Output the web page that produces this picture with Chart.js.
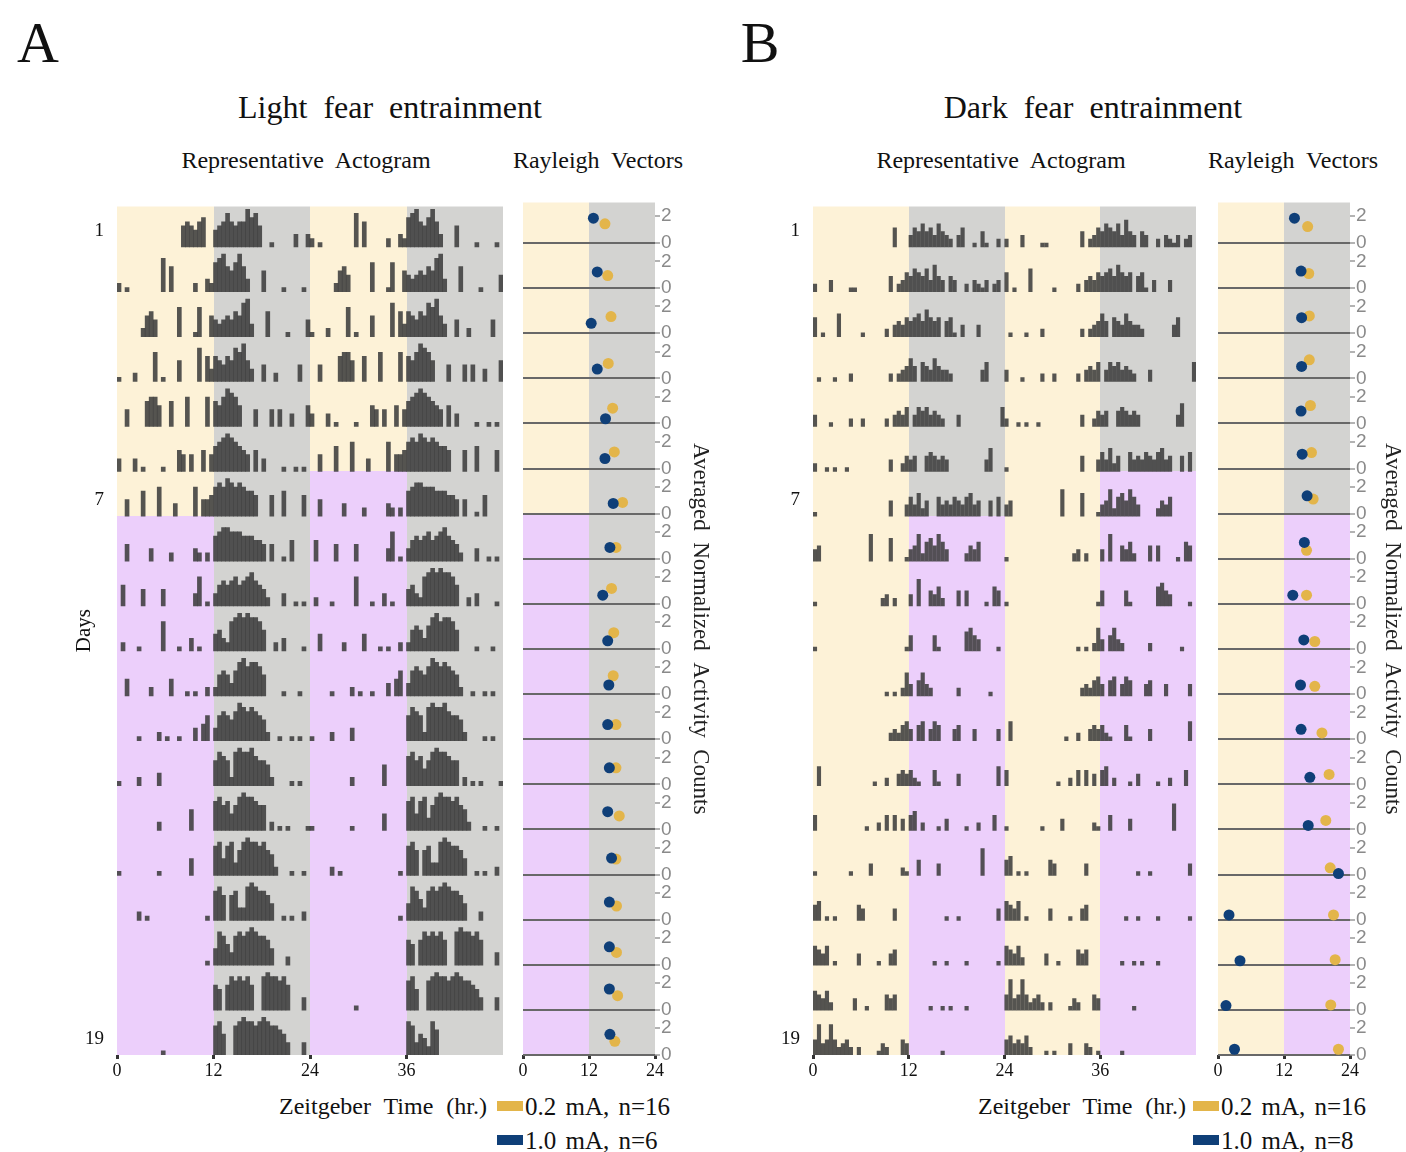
<!DOCTYPE html>
<html>
<head>
<meta charset="utf-8">
<title>Light / dark fear entrainment</title>
<script src="https://cdn.jsdelivr.net/npm/chart.js@4.4.1/dist/chart.umd.min.js"></script>
<style>
  html, body { margin: 0; background: #fff; }
  #page { position: relative; width: 1406px; height: 1152px; overflow: hidden;
          font-family: 'Liberation Serif', 'Times New Roman', serif; color: #111; }
  #page canvas { position: absolute; }
  .txt { position: absolute; white-space: nowrap; line-height: 1; transform: translate(-50%, -50%); word-spacing: 6px; }
  .panel { font-size: 58px; }
  .title { font-size: 32px; word-spacing: 8px; }
  .sub { font-size: 24px; }
  .axis { font-size: 24px; word-spacing: 7px; }
  .key { position: absolute; white-space: nowrap; line-height: 1; font-size: 25px; word-spacing: 3px; transform: translateY(-50%); }
  .swatch { position: absolute; width: 26px; height: 10px; }
</style>
</head>
<body>
<div id="page">
  <div class="txt panel" style="left:38px;top:43px">A</div>
  <div class="txt panel" style="left:760px;top:43px">B</div>
  <div class="txt title" style="left:390px;top:107px">Light fear entrainment</div>
  <div class="txt title" style="left:1093px;top:107px">Dark fear entrainment</div>
  <div class="txt sub" style="left:306px;top:160px">Representative Actogram</div>
  <div class="txt sub" style="left:598px;top:160px">Rayleigh Vectors</div>
  <div class="txt sub" style="left:1001px;top:160px">Representative Actogram</div>
  <div class="txt sub" style="left:1293px;top:160px">Rayleigh Vectors</div>

  <canvas id="actoA" width="450" height="900" style="left:60px;top:190px"></canvas>
  <canvas id="rayA" width="205" height="900" style="left:515px;top:190px"></canvas>
  <canvas id="actoB" width="443" height="900" style="left:760px;top:190px"></canvas>
  <canvas id="rayB" width="196" height="900" style="left:1210px;top:190px"></canvas>

  <div class="txt axis" style="left:383px;top:1106px">Zeitgeber Time (hr.)</div>
  <div class="swatch" style="left:497px;top:1101px;background:#e3b54a"></div>
  <div class="key" style="left:525px;top:1106px">0.2 mA, n=16</div>
  <div class="swatch" style="left:497px;top:1135px;background:#0f3f78"></div>
  <div class="key" style="left:525px;top:1140px">1.0 mA, n=6</div>

  <div class="txt axis" style="left:1082px;top:1106px">Zeitgeber Time (hr.)</div>
  <div class="swatch" style="left:1193px;top:1101px;background:#e3b54a"></div>
  <div class="key" style="left:1221px;top:1106px">0.2 mA, n=16</div>
  <div class="swatch" style="left:1193px;top:1135px;background:#0f3f78"></div>
  <div class="key" style="left:1221px;top:1140px">1.0 mA, n=8</div>
</div>
<script>
const ROWS = 19;
const TOP = 18.9;
const VEC_UNIT = 0.297;

const hourTicksActo = [0, 12, 24, 36];
const hourTicksVec = [0, 12, 24];
const dayRows = [1, 7, 19];
const dayLabels = ['1', '7', '19'];
const vecTickLabels = ['0', '2'];

// activity per half hour (0-9), one string per day, groups of 4 h
const actoA = [
  '00000000 00000000 56546700 45686566 97850010 00003003',
  '20100000 00080600 00020032 78965796 30005000 01000010',
  '00000025 64000007 00017005 43454658 93000600 00100004',
  '10002000 07010005 00008063 65465879 53004002 00000400',
  '00400006 77500600 07000070 65798750 00400040 40030005',
  '30003010 00010005 40400504 67898765 40503000 01001010',
  '00400060 00700030 00070445 78798787 66500050 06000050',
  '00400000 30000200 00032020 67887776 66554040 01050000',
  '05000040 00040000 00037010 35656756 78654200 03001010',
  '02000100 00070001 00301000 45327898 98875002 03000010',
  '00400000 20000400 01010020 25653689 78875000 01000100',
  '00000100 00201001 00030460 36765798 78765200 10010100',
  '10000200 00300000 00000000 68762898 89766520 00010100',
  '00000000 00200000 00500000 78674689 88766020 10100001',
  '10000000 00100000 00400000 78478368 98878652 00010010',
  '00000201 00000000 00000010 78606733 89877640 01010020',
  '00000000 00000000 00000010 48753787 89877640 00200000',
  '00000000 00000000 00000000 65068787 86008988 78600030',
  '00000000 00010000 00000000 78500789 88789877 65300030',
  '00000000 00000000 00000000 87354286 00000000 00000000'
];
const actoB = [
  '00000000 00000000 00005000 35464536 43203500 10410020',
  '20003000 01100000 00040235 46546374 30430020 32130230',
  '50100060 00001000 00203435 45647545 04510300 03000000',
  '01000100 02000000 00020234 64054364 33200000 00350000',
  '30001000 02002000 00203435 03545343 20003000 00000005',
  '20010100 10000000 00030024 34004543 43000000 00036000',
  '10000000 00000000 00040003 53624005 34354356 34004050',
  '34000000 00000070 00060001 34725647 53000024 35000000',
  '10000000 00000000 02302000 30700435 20004040 00010540',
  '10000000 00000000 00000001 40000041 00000056 43000010',
  '00000000 00000000 00101026 30463200 00002000 00001000',
  '00000000 00000000 00023245 30450354 00034000 30000030',
  '05000000 00000001 00200343 42100041 00003000 00000050',
  '40000000 00000100 20404030 45020001 03000010 02000400',
  '10000000 01000030 00000021 00400003 00000000 00700000',
  '45010100 00043000 00003000 00000000 01001000 00000030',
  '54350100 00030000 10034000 00000010 01000010 00000010',
  '54352000 00300100 00434000 00000100 10100010 00000000',
  '48348423 42020000 13200043 00000000 10000000 00000000',
  '45343520 00101000 30003201 00000100 00000000 00000000'
];

// background per row: Y light, G dark, P fear-paired phase (12 h each)
const bgActoA = ['YGYG','YGYG','YGYG','YGYG','YGYG','YGYG','YGPG',
  'PGPG','PGPG','PGPG','PGPG','PGPG','PGPG','PGPG','PGPG','PGPG','PGPG','PGPG','PGPG'];
const bgVecA = ['YG','YG','YG','YG','YG','YG','YG',
  'PG','PG','PG','PG','PG','PG','PG','PG','PG','PG','PG','PG'];
const bgActoB = ['YGYG','YGYG','YGYG','YGYG','YGYG','YGYG','YGYP',
  'YPYP','YPYP','YPYP','YPYP','YPYP','YPYP','YPYP','YPYP','YPYP','YPYP','YPYP','YPYP'];
const bgVecB = ['YG','YG','YG','YG','YG','YG','YG',
  'YP','YP','YP','YP','YP','YP','YP','YP','YP','YP','YP','YP'];

// Rayleigh vectors: phase (ZT h) and length, one per row
const vecA_lowHour = [14.9, 15.4, 16.0, 15.5, 16.3, 16.6, 18.1, 16.9, 16.1, 16.5, 16.4, 16.9, 16.9, 17.5, 16.9, 17.0, 17.0, 17.2, 16.7];
const vecA_lowLen  = [1.43, 0.94, 1.24, 1.11, 1.14, 1.24, 0.84, 0.85, 1.15, 1.22, 1.37, 1.09, 1.23, 1.01, 1.16, 1.02, 0.92, 1.06, 1.02];
const vecA_highHour = [12.8, 13.5, 12.4, 13.5, 15.0, 14.9, 16.4, 15.8, 14.5, 15.4, 15.6, 15.4, 15.7, 15.4, 16.1, 15.7, 15.7, 15.7, 15.8];
const vecA_highLen  = [1.85, 1.21, 0.74, 0.69, 0.35, 0.75, 0.76, 0.85, 0.65, 0.61, 0.68, 1.09, 1.23, 1.33, 1.23, 1.31, 1.34, 1.56, 1.54];

const vecB_lowHour = [16.3, 16.5, 16.6, 16.6, 16.8, 17.0, 17.3, 16.1, 16.1, 17.6, 17.6, 18.9, 20.2, 19.6, 20.4, 21.0, 21.3, 20.5, 21.9];
const vecB_lowLen  = [1.23, 1.09, 1.29, 1.38, 1.34, 1.19, 1.09, 0.63, 0.65, 0.56, 0.58, 0.47, 0.74, 0.67, 0.50, 0.35, 0.38, 0.37, 0.43];
const vecB_highHour = [13.9, 15.1, 15.2, 15.2, 15.1, 15.3, 16.2, 15.7, 13.6, 15.6, 15.0, 15.1, 16.7, 16.4, 21.9, 2.0, 4.0, 1.45, 3.0];
const vecB_highLen  = [1.85, 1.27, 1.16, 0.89, 0.92, 1.07, 1.33, 1.22, 0.65, 0.68, 0.68, 0.74, 0.52, 0.30, 0.07, 0.35, 0.30, 0.32, 0.43];

const GOLD = '#e3b54a';
const NAVY = '#0f3f78';
const bandColors = { Y: '#fdf2d7', G: '#d3d3d1', P: '#eccffb' };

Chart.defaults.font.family = "'Liberation Serif', 'Times New Roman', serif";
Chart.defaults.color = '#111';

// light / dark / fear bands behind each row
const bandPlugin = {
  id: 'bands',
  beforeDraw(chart, args, opts) {
    const { ctx, chartArea: a, scales: { x, y } } = chart;
    ctx.save();
    ctx.beginPath();
    ctx.rect(a.left, a.top, a.right - a.left, a.bottom - a.top);
    ctx.clip();
    opts.rows.forEach((code, r) => {
      const base = ROWS - 1 - r;
      const y0 = Math.round(y.getPixelForValue(base + 1));
      const y1 = Math.round(y.getPixelForValue(base));
      [...code].forEach((c, k) => {
        const x0 = Math.round(x.getPixelForValue(k * 12));
        const x1 = Math.round(x.getPixelForValue(k * 12 + 12));
        ctx.fillStyle = bandColors[c];
        ctx.fillRect(x0, y0, x1 - x0, y1 - y0);
      });
    });
    ctx.restore();
  }
};

// double plot: row r shows day r then day r+1
function rowBars(days, unit) {
  const pts = [];
  for (let r = 0; r < ROWS; r++) {
    const base = ROWS - 1 - r;
    [0, 1].forEach(half => {
      const bins = days[r + half].replace(/ /g, '');
      for (let b = 0; b < bins.length; b++) {
        const v = +bins[b];
        if (v > 0) pts.push({ x: half * 24 + (b + 0.5) * 0.5, y: [base, base + v * unit] });
      }
    });
  }
  return pts;
}

function actogram(id, days, bands, yWidth, yTitle, unit, thick) {
  return new Chart(document.getElementById(id), {
    type: 'bar',
    data: { datasets: [{
      data: rowBars(days, unit),
      backgroundColor: 'rgba(62,62,62,0.88)',
      barThickness: thick,
      borderWidth: 0
    }] },
    options: {
      responsive: false,
      animation: false,
      layout: { padding: { top: 7, right: 7 } },
      plugins: { legend: { display: false }, tooltip: { enabled: false }, bands: { rows: bands } },
      scales: {
        x: {
          type: 'linear', min: 0, max: 48, offset: false,
          afterBuildTicks: s => { s.ticks = hourTicksActo.map(v => ({ value: v })); },
          afterFit: s => { s.height = 35; },
          grid: { display: true, drawOnChartArea: false, offset: false, tickLength: 4, tickWidth: 3, tickColor: '#333' },
          border: { display: false },
          ticks: { font: { size: 18 }, color: '#111', padding: 1, maxRotation: 0 }
        },
        y: {
          type: 'linear', min: 0, max: TOP,
          afterBuildTicks: s => { s.ticks = dayRows.map(r => ({ value: ROWS - r + 0.36 })); },
          afterFit: s => { s.width = yWidth; },
          grid: { display: false },
          border: { display: false },
          ticks: { font: { size: 19 }, color: '#111', padding: 5, autoSkip: false,
                   callback: (v, i) => dayLabels[i] },
          title: { display: !!yTitle, text: yTitle || '', font: { size: 21 }, color: '#111', padding: { top: 12 } }
        }
      }
    },
    plugins: [bandPlugin]
  });
}

function vectors(id, bands, highHour, highLen, lowHour, lowLen, axisWidth, titlePad) {
  const pts = (hours, lens) => hours.map((h, i) => ({ x: h, y: ROWS - 1 - i + lens[i] * VEC_UNIT }));
  return new Chart(document.getElementById(id), {
    type: 'scatter',
    data: { datasets: [
      { label: '1.0 mA', data: pts(highHour, highLen), backgroundColor: NAVY, pointRadius: 5.5, borderWidth: 0, clip: false },
      { label: '0.2 mA', data: pts(lowHour, lowLen), backgroundColor: GOLD, pointRadius: 5.5, borderWidth: 0, clip: false }
    ] },
    options: {
      responsive: false,
      animation: false,
      layout: { padding: { top: 7, left: 8 } },
      plugins: { legend: { display: false }, tooltip: { enabled: false }, bands: { rows: bands } },
      scales: {
        x: {
          type: 'linear', min: 0, max: 24,
          afterBuildTicks: s => { s.ticks = hourTicksVec.map(v => ({ value: v })); },
          afterFit: s => { s.height = 35; },
          grid: { display: true, drawOnChartArea: false, tickLength: 4, tickWidth: 3, tickColor: '#333' },
          border: { display: false },
          ticks: { font: { size: 18 }, color: '#111', padding: 1, maxRotation: 0 }
        },
        y: {
          type: 'linear', position: 'right', min: 0, max: TOP,
          afterBuildTicks: s => {
            const t = [];
            for (let r = ROWS; r >= 1; r--) {
              t.push({ value: ROWS - r });
              t.push({ value: ROWS - r + 2 * VEC_UNIT });
            }
            s.ticks = t;
          },
          afterFit: s => { s.width = axisWidth; },
          grid: {
            color: c => (c.index % 2 === 0 ? '#686868' : 'rgba(0,0,0,0)'),
            lineWidth: 2,
            tickColor: '#9a9a9a',
            tickLength: 5,
            tickWidth: 1.5
          },
          border: { display: false },
          ticks: { font: { family: "'Liberation Sans', Arial, sans-serif", size: 19 }, color: '#8a8a8a',
                   padding: 1, autoSkip: false, callback: (v, i) => vecTickLabels[i % 2] },
          title: { display: true, text: 'Averaged  Normalized  Activity  Counts', font: { size: 23 },
                   color: '#222', padding: { top: titlePad } }
        }
      }
    },
    plugins: [bandPlugin]
  });
}

actogram('actoA', actoA, bgActoA, 57, 'Days', 0.093, 4);
vectors('rayA', bgVecA, vecA_highHour, vecA_highLen, vecA_lowHour, vecA_lowLen, 65, 6);
actogram('actoB', actoB, bgActoB, 53, '', 0.085, 3.5);
vectors('rayB', bgVecB, vecB_highHour, vecB_highLen, vecB_lowHour, vecB_lowLen, 56, 0);
</script>
</body>
</html>
